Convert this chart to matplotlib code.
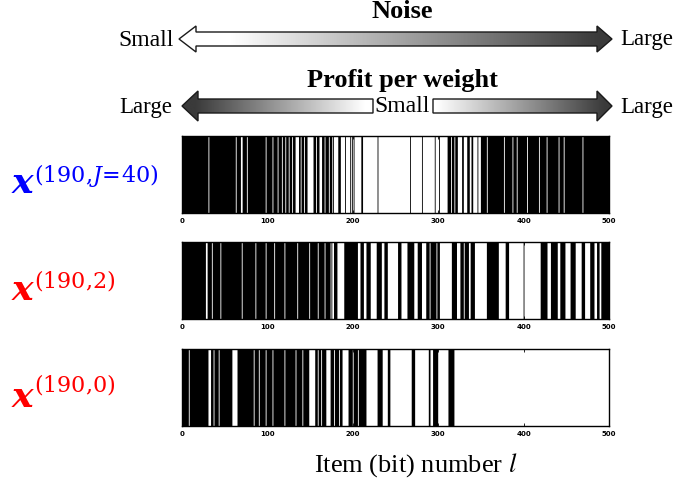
import numpy as np
import matplotlib.pyplot as plt
from matplotlib.colors import LinearSegmentedColormap
from matplotlib.patches import Polygon

plt.rcParams['mathtext.fontset'] = 'dejavuserif'

n_items = 500
tick_vals = [0, 100, 200, 300, 400, 500]

# zero bits (white) of each solution vector, as [start, stop) item ranges
zeros_j40 = [(31, 32), (63, 64), (69, 71), (76, 77), (98, 99), (106, 107),
             (112, 113), (117, 118), (121, 122), (125, 126), (129, 130),
             (133, 137), (139, 140), (143, 144), (147, 154), (157, 158),
             (161, 164), (167, 168), (172, 173), (176, 177), (178, 183),
             (186, 191), (192, 197), (198, 199), (200, 201), (202, 210),
             (212, 229), (230, 267), (268, 281), (282, 296), (297, 301),
             (302, 311), (315, 316), (319, 320), (323, 328), (330, 334),
             (337, 339), (341, 346), (347, 350), (357, 358), (377, 378),
             (387, 388), (392, 393), (404, 405), (418, 419), (427, 428),
             (441, 442), (447, 448), (469, 470)]

zeros_j2 = [(28, 30), (35, 36), (45, 46), (70, 71), (86, 87), (98, 99),
            (108, 109), (120, 121), (135, 136), (149, 150), (159, 160),
            (167, 168), (174, 175), (176, 178), (182, 190), (206, 209),
            (213, 216), (221, 228), (234, 237), (241, 253), (257, 264),
            (272, 276), (281, 286), (290, 291), (298, 299), (302, 316),
            (322, 326), (330, 331), (336, 338), (343, 357), (371, 379),
            (383, 400), (401, 420), (428, 432), (440, 443), (449, 455),
            (461, 468), (472, 478), (483, 486), (489, 491)]

zeros_j0 = [(8, 9), (31, 34), (37, 38), (43, 44), (59, 65), (84, 85),
            (90, 91), (98, 99), (106, 107), (120, 121), (133, 134),
            (141, 142), (149, 156), (159, 160), (163, 164), (169, 174),
            (178, 179), (184, 185), (188, 195), (200, 201), (206, 207),
            (216, 229), (235, 241), (244, 269), (273, 289), (291, 294),
            (300, 312), (319, 500)]

row_zeros = [zeros_j40, zeros_j2, zeros_j0]
row_names = [r'$(190{,}J\!=\!40)$', r'$(190{,}2)$', r'$(190{,}0)$']
row_colors = ['#0000ff', '#ff0000', '#ff0000']


def to_bits(zero_runs):
    bits = np.ones(n_items)
    for a, b in zero_runs:
        bits[a:b] = 0
    return bits


def one_runs(bits):
    d = np.diff(np.concatenate([[0], bits, [0]]))
    starts = np.where(d == 1)[0]
    ends = np.where(d == -1)[0]
    return list(zip(starts, ends - starts))


W, H = 674, 481
fig = plt.figure(figsize=(W / 100, H / 100), dpi=100)

# overlay in pixel units for arrows and annotations
ax_o = fig.add_axes([0, 0, 1, 1])
ax_o.set_xlim(0, W)
ax_o.set_ylim(H, 0)
ax_o.axis('off')

shade = LinearSegmentedColormap.from_list('shade', ['white', '#3a3a3a'])


def gradient_arrow(pts, x_white, x_dark):
    pts = np.array(pts, dtype=float)
    x0, x1 = pts[:, 0].min(), pts[:, 0].max()
    y0, y1 = pts[:, 1].min(), pts[:, 1].max()
    xs = np.linspace(x0, x1, 600)
    vals = np.clip((xs - x_white) / (x_dark - x_white), 0, 1)
    im = ax_o.imshow(vals[None, :], cmap=shade, vmin=0, vmax=1,
                     extent=(x0, x1, y1, y0), aspect='auto', zorder=1)
    clip = Polygon(pts, closed=True, transform=ax_o.transData)
    im.set_clip_path(clip)
    ax_o.add_patch(Polygon(pts, closed=True, fill=False,
                           edgecolor='#1a1a1a', lw=1.0, zorder=2))


# Noise: double arrow, light on the left, dark on the right
gradient_arrow([(179, 40), (196, 27), (196, 33), (597, 33), (597, 27),
                (612, 40), (597, 53), (597, 47), (196, 47), (196, 53)],
               230, 600)
# Profit per weight: two arrows pointing outwards from the middle
gradient_arrow([(182, 107), (198, 92), (198, 100), (373, 100),
                (373, 114), (198, 114), (198, 122)], 365, 195)
gradient_arrow([(433, 100), (597, 100), (597, 92), (612, 107),
                (597, 122), (597, 114), (433, 114)], 436, 605)

ax_o.set_xlim(0, W)
ax_o.set_ylim(H, 0)

serif = 'Liberation Serif'
ax_o.text(402, 12, 'Noise', ha='center', va='center', fontsize=19,
          fontweight='bold', family=serif)
ax_o.text(146, 40, 'Small', ha='center', va='center', fontsize=17, family=serif)
ax_o.text(647, 40, 'Large', ha='center', va='center', fontsize=16.5, family=serif)
ax_o.text(402, 80, 'Profit per weight', ha='center', va='center', fontsize=19,
          fontweight='bold', family=serif)
ax_o.text(146, 107, 'Large', ha='center', va='center', fontsize=16.5, family=serif)
ax_o.text(402, 106, 'Small', ha='center', va='center', fontsize=17, family=serif)
ax_o.text(647, 107, 'Large', ha='center', va='center', fontsize=16.5, family=serif)
ax_o.text(416, 465, 'Item (bit) number $l$', ha='center', va='center',
          fontsize=19, family=serif, math_fontfamily='stix')

# barcode strips, one filled run per block of consecutive ones
strip_px = [(137, 214), (243, 320), (350, 427)]
label_base = [(193, 182), (300, 288), (407, 392)]
for zeros, name, col, (top, bot), (xb, sb) in zip(row_zeros, row_names, row_colors,
                                                   strip_px, label_base):
    ax = fig.add_axes([182 / W, 1 - bot / H, 427 / W, (bot - top) / H])
    ax.broken_barh(one_runs(to_bits(zeros)), (0, 1), facecolors='black',
                   linewidth=0, snap=False, antialiased=True)
    ax.set_xlim(0, n_items)
    ax.set_ylim(0, 1)
    ax.set_yticks([])
    ax.set_xticks(tick_vals, labels=[str(t) for t in tick_vals],
                  fontsize=5, fontweight='bold')
    ax.tick_params(axis='x', direction='in', length=2.5, width=0.6,
                   top=True, bottom=True, pad=3)
    for s in ax.spines.values():
        s.set_linewidth(1.0)

    ax_o.text(12, xb, 'x', color=col, fontsize=26, fontweight='bold',
              fontstyle='italic', family='DejaVu Serif', va='baseline')
    ax_o.text(34, sb, name, color=col, fontsize=16, va='baseline')

fig.savefig('out.png', dpi=100)
